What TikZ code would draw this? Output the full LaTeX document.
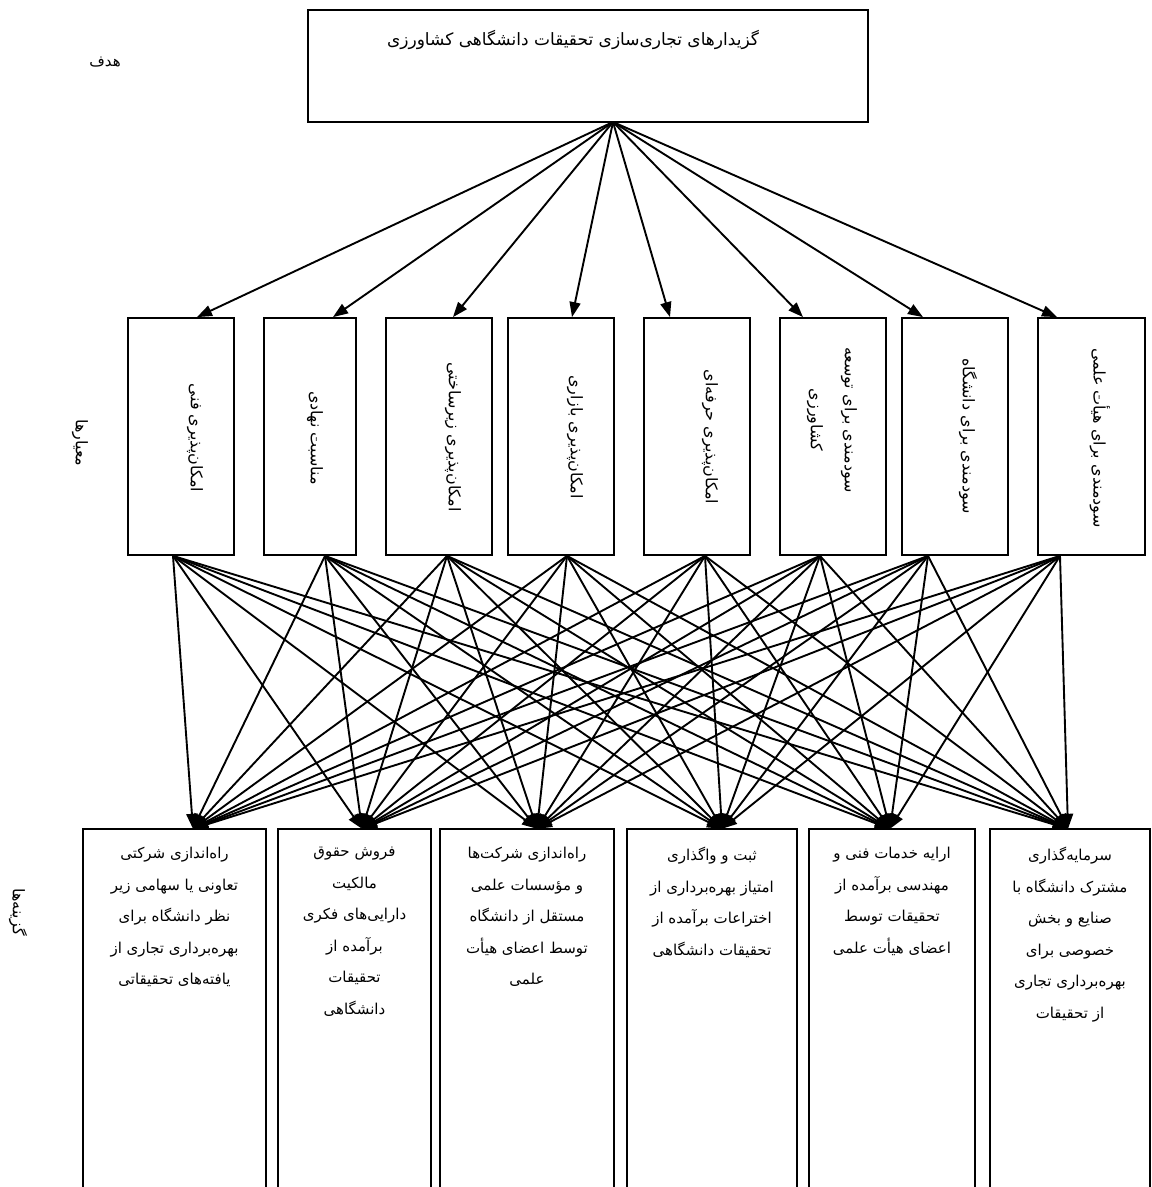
\documentclass[tikz,border=0pt]{standalone}
\usepackage{fontspec}
\usetikzlibrary{arrows.meta}
\TeXXeTstate=1
\newfontfamily\arabicfont[Script=Arabic]{DejaVu Sans}
\newcommand\fa[1]{\beginR #1\endR}
\tikzset{
  box/.style={draw, line width=1.8pt, rectangle, inner sep=0pt},
  openbox/.style={rectangle, inner sep=0pt, draw=none},
  txt/.style={font=\arabicfont\fontsize{15}{31.5}\selectfont, inner sep=0pt, align=center},
  bigtxt/.style={txt, font=\arabicfont\fontsize{17}{20}\selectfont},
  vtxt/.style={txt, font=\arabicfont\fontsize{16}{34}\selectfont, rotate=-90},
  con/.style={line width=1.9pt, -{Triangle[length=15pt,width=11pt]}},
}
\begin{document}
\begin{tikzpicture}[x=1pt,y=-1pt]
\useasboundingbox[fill=white] (0,0) rectangle (1152,1187);
% goal
\node[box, minimum width=560pt, minimum height=112pt] (goal) at (588,66) {};
\node[bigtxt] (goaltext) at (573,40) {\fa{گزیدارهای تجاری‌سازی تحقیقات دانشگاهی کشاورزی}};
\node[txt] (lgoal) at (105,62) {\fa{هدف}};
\node[vtxt] (lcrit) at (80,443) {\fa{معیارها}};
\node[vtxt] (lalt) at (18,912) {\fa{گزینه‌ها}};
\coordinate (apex) at (613,122);
% criteria
\node[box, minimum width=106pt, minimum height=237pt] (c1) at (181,436.5) {};
\node[box, minimum width=92pt, minimum height=237pt] (c2) at (310,436.5) {};
\node[box, minimum width=106pt, minimum height=237pt] (c3) at (439,436.5) {};
\node[box, minimum width=106pt, minimum height=237pt] (c4) at (561,436.5) {};
\node[box, minimum width=106pt, minimum height=237pt] (c5) at (697,436.5) {};
\node[box, minimum width=106pt, minimum height=237pt] (c6) at (833,436.5) {};
\node[box, minimum width=106pt, minimum height=237pt] (c7) at (955,436.5) {};
\node[box, minimum width=107pt, minimum height=237pt] (c8) at (1091.5,436.5) {};
\node[vtxt] (ct1) at (195,438) {\fa{امکان‌پذیری فنی}};
\node[vtxt] (ct2) at (315,438) {\fa{مناسبت نهادی}};
\node[vtxt] (ct3) at (453,437) {\fa{امکان‌پذیری زیرساختی}};
\node[vtxt] (ct4) at (575,437) {\fa{امکان‌پذیری بازاری}};
\node[vtxt] (ct5) at (710,437) {\fa{امکان‌پذیری حرفه‌ای}};
\node[vtxt] (ct6) at (832,420) {\fa{سودمندی برای توسعه}\\\fa{کشاورزی}};
\node[vtxt] (ct7) at (968,436) {\fa{سودمندی برای دانشگاه}};
\node[vtxt] (ct8) at (1100,438) {\fa{سودمندی برای هیأت علمی}};
% alternatives
\node[openbox, minimum width=183pt, minimum height=358pt] (a1) at (174.5,1008) {};
\node[openbox, minimum width=153pt, minimum height=358pt] (a2) at (354.5,1008) {};
\node[openbox, minimum width=174pt, minimum height=358pt] (a3) at (527,1008) {};
\node[openbox, minimum width=170pt, minimum height=358pt] (a4) at (712,1008) {};
\node[openbox, minimum width=166pt, minimum height=358pt] (a5) at (892,1008) {};
\node[openbox, minimum width=160pt, minimum height=358pt] (a6) at (1070,1008) {};
\foreach \a in {a1,a2,a3,a4,a5,a6}
  \draw[line width=1.8pt] (\a.south west) |- (\a.north east) -- (\a.south east);
\node[txt, anchor=north] (at1) at (174.5,847) {\fa{راه‌اندازی شرکتی}\\\fa{تعاونی یا سهامی زیر}\\\fa{نظر دانشگاه برای}\\\fa{بهره‌برداری تجاری از}\\\fa{یافته‌های تحقیقاتی}};
\node[txt, anchor=north] (at2) at (354.5,847) {\fa{فروش حقوق}\\\fa{مالکیت}\\\fa{دارایی‌های فکری}\\\fa{برآمده از}\\\fa{تحقیقات}\\\fa{دانشگاهی}};
\node[txt, anchor=north] (at3) at (527,847) {\fa{راه‌اندازی شرکت‌ها}\\\fa{و مؤسسات علمی}\\\fa{مستقل از دانشگاه}\\\fa{توسط اعضای هیأت}\\\fa{علمی}};
\node[txt, anchor=north] (at4) at (712,847) {\fa{ثبت و واگذاری}\\\fa{امتیاز بهره‌برداری از}\\\fa{اختراعات برآمده از}\\\fa{تحقیقات دانشگاهی}};
\node[txt, anchor=north] (at5) at (892,847) {\fa{ارایه خدمات فنی و}\\\fa{مهندسی برآمده از}\\\fa{تحقیقات توسط}\\\fa{اعضای هیأت علمی}};
\node[txt, anchor=north] (at6) at (1070,847) {\fa{سرمایه‌گذاری}\\\fa{مشترک دانشگاه با}\\\fa{صنایع و بخش}\\\fa{خصوصی برای}\\\fa{بهره‌برداری تجاری}\\\fa{از تحقیقات}};
% goal -> criteria
\foreach \c/\dx in {c1/16,c2/23,c3/14,c4/11,c5/-27,c6/-30,c7/-32,c8/-34.5}
  \draw[con] (apex) -- ([xshift=\dx pt]\c.north);
% criteria -> alternatives
\foreach \c/\sx in {c1/-8,c2/15,c3/8,c4/6,c5/8,c6/-13,c7/-27,c8/-31.5}
  \foreach \a/\ex in {a1/18.5,a2/7.5,a3/10,a4/10,a5/-2,a6/-2}
    \draw[con] ([xshift=\sx pt]\c.south) -- ([xshift=\ex pt]\a.north);
\end{tikzpicture}
\end{document}
